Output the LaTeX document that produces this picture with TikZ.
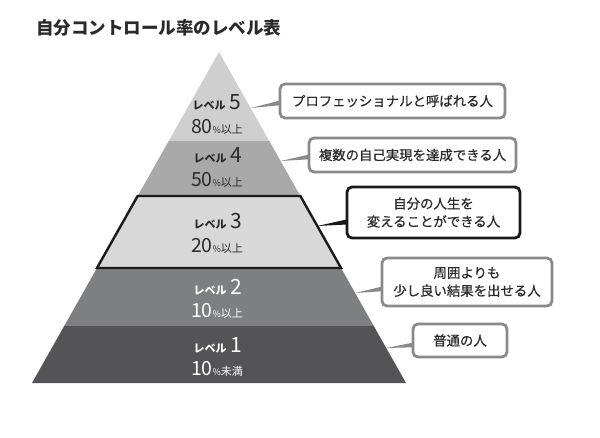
\documentclass[tikz,border=0pt]{standalone}
\usepackage{fontspec}
\setmainfont{Noto Sans CJK JP}
\newfontfamily\medfont{Noto Sans CJK JP}[FakeBold=0.6]
\usetikzlibrary{calc}
\definecolor{lvA}{HTML}{CFCFCF}
\definecolor{lvB}{HTML}{A9A9A9}
\definecolor{lvC}{HTML}{D8D8D8}
\definecolor{lvD}{HTML}{7E7F81}
\definecolor{lvE}{HTML}{545456}
\definecolor{txtdark}{HTML}{2A2A2A}
\definecolor{boxgrey}{HTML}{8A8A8A}
\definecolor{boxblack}{HTML}{1A1A1A}
\tikzset{
  callout/.style={draw=boxgrey, line width=2.8pt, rounded corners=5pt, fill=white,
    inner sep=0pt, align=center, text=txtdark, font=\medfont\fontsize{13.4}{18}\selectfont},
  calloutblack/.style={callout, draw=boxblack, line width=2.8pt},
  lvlabel/.style={anchor=base, inner sep=0pt},
}
\newcommand{\lvA}[1]{{\bfseries\fontsize{11}{12}\selectfont レベル}\hspace{4pt}{\fontsize{21}{22}\selectfont #1}}
\newcommand{\lvB}[2]{{\fontsize{19.5}{20}\selectfont #1}{\fontsize{9}{10}\selectfont \%}{\fontsize{11}{12}\selectfont #2}}
\begin{document}
\begin{tikzpicture}[x=1pt,y=-1pt]
\useasboundingbox (0,0) rectangle (600,437);
\fill[white] (0,0) rectangle (600,437);
% title
\node[anchor=west, inner sep=0pt, text=txtdark, font=\bfseries\fontsize{17.5}{20}\selectfont] (title) at (36,28) {自分コントロール率のレベル表};
% pyramid
\coordinate (apex) at (219,52);
\coordinate (bl) at (32,383);
\coordinate (br) at (406,383);
\coordinate (l1) at ($(apex)!0.2689!(bl)$);
\coordinate (r1) at ($(apex)!0.2689!(br)$);
\coordinate (l2) at ($(apex)!0.4350!(bl)$);
\coordinate (r2) at ($(apex)!0.4350!(br)$);
\coordinate (l3) at ($(apex)!0.6526!(bl)$);
\coordinate (r3) at ($(apex)!0.6526!(br)$);
\coordinate (l4) at ($(apex)!0.8278!(bl)$);
\coordinate (r4) at ($(apex)!0.8278!(br)$);
\fill[lvA] (apex) -- (l1) -- (r1) -- cycle;
\fill[lvB] (l1) -- (l2) -- (r2) -- (r1) -- cycle;
\fill[lvC] (l2) -- (l3) -- (r3) -- (r2) -- cycle;
\fill[lvD] (l3) -- (l4) -- (r4) -- (r3) -- cycle;
\fill[lvE] (l4) -- (bl) -- (br) -- (r4) -- cycle;
\draw[boxblack, line width=2.4pt, line join=miter] (l2) -- (l3) -- (r3) -- (r2) -- cycle;
% level labels
\node[lvlabel, text=txtdark] (n5a) at (217,109) {\lvA{5}};
\node[lvlabel, text=txtdark] (n5b) at (217,133) {\lvB{80}{以上}};
\node[lvlabel, text=txtdark] (n4a) at (218,162) {\lvA{4}};
\node[lvlabel, text=txtdark] (n4b) at (217,186) {\lvB{50}{以上}};
\node[lvlabel, text=txtdark] (n3a) at (218,228) {\lvA{3}};
\node[lvlabel, text=txtdark] (n3b) at (217,252) {\lvB{20}{以上}};
\node[lvlabel, text=white] (n2a) at (218,294) {\lvA{2}};
\node[lvlabel, text=white] (n2b) at (217,317) {\lvB{10}{以上}};
\node[lvlabel, text=white] (n1a) at (218,352) {\lvA{1}};
\node[lvlabel, text=white] (n1b) at (217,375) {\lvB{10}{未満}};
% callout boxes
\node[callout, minimum width=225pt, minimum height=34pt] (b5) at (392.5,101) {プロフェッショナルと呼ばれる人};
\node[callout, minimum width=207pt, minimum height=34pt] (b4) at (412.5,155) {複数の自己実現を達成できる人};
\node[calloutblack, minimum width=173pt, minimum height=51pt] (b3) at (433.5,212.5) {自分の人生を\\変えることができる人};
\node[callout, minimum width=170pt, minimum height=48pt] (b2) at (467,282) {周囲よりも\\少し良い結果を出せる人};
\node[callout, minimum width=94pt, minimum height=33pt] (b1) at (460,340.5) {普通の人};
% connector tips on the pyramid edge
\coordinate (t5) at ($(apex)!0.1692!(br)$);
\coordinate (t4) at ($(apex)!0.3293!(br)$);
\coordinate (t3) at ($(apex)!0.5257!(br)$);
\coordinate (t2) at ($(apex)!0.7281!(br)$);
\coordinate (t1) at ($(apex)!0.8943!(br)$);
\coordinate (c5) at (b5.west |- 0,103);
\coordinate (c4) at (b4.west |- 0,157);
\coordinate (c3) at (b3.west |- 0,222);
\coordinate (c2) at (b2.west |- 0,289);
\coordinate (c1) at (b1.west |- 0,345);
\fill[boxgrey] (t5) -- ($(c5)+(1,-2.3)$) -- ($(c5)+(1,2.3)$) -- cycle;
\fill[boxgrey] (t4) -- ($(c4)+(1,-2.3)$) -- ($(c4)+(1,2.3)$) -- cycle;
\fill[boxblack] (t3) -- ($(c3)+(1,-2.5)$) -- ($(c3)+(1,2.5)$) -- cycle;
\fill[boxgrey] (t2) -- ($(c2)+(1,-2.3)$) -- ($(c2)+(1,2.3)$) -- cycle;
\fill[boxgrey] (t1) -- ($(c1)+(1,-2.3)$) -- ($(c1)+(1,2.3)$) -- cycle;
\end{tikzpicture}
\end{document}
